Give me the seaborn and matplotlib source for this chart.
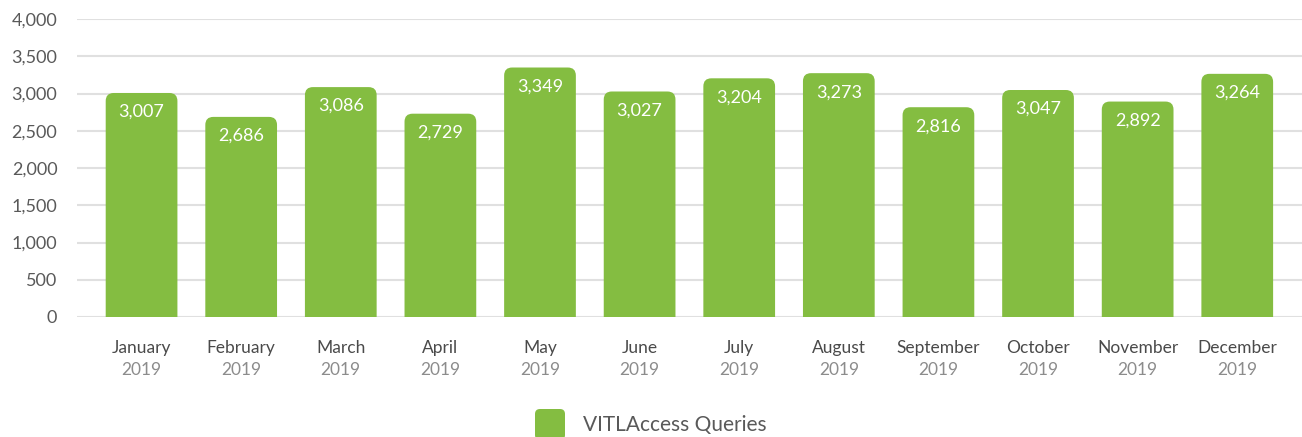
import numpy as np
import pandas as pd
import matplotlib
matplotlib.use('Agg')
import matplotlib.pyplot as plt
import seaborn as sns
from matplotlib.patches import FancyBboxPatch

# Chart data
months = ['January', 'February', 'March', 'April', 'May', 'June',
          'July', 'August', 'September', 'October', 'November', 'December']
year_label = '2019'
queries = [3007, 2686, 3086, 2729, 3349, 3027, 3204, 3273, 2816, 3047, 2892, 3264]
y_ticks = [0, 500, 1000, 1500, 2000, 2500, 3000, 3500, 4000]
series_name = 'VITLAccess Queries'

bar_color = '#84bd41'

sns.set_style('white')
plt.rcParams['font.family'] = ['Lato', 'DejaVu Sans']

fig = plt.figure(figsize=(13.02, 4.37), dpi=100)
ax = fig.add_axes([0.059, 0.2746, 0.941, 0.6819])

df = pd.DataFrame({'month': months, 'queries': queries})
sns.barplot(data=df, x='month', y='queries', color=bar_color, width=0.72,
            saturation=1, ax=ax, zorder=3)

ax.set_ylim(0, 4000)
ax.set_xlim(-0.65, len(months) - 0.35)

# swap plain bars for bars with rounded tops
px_x = (ax.get_xlim()[1] - ax.get_xlim()[0]) / (0.941 * 1302)
px_y = 4000 / (0.6819 * 437)
r_px = 8
aspect = px_y / px_x
for p in list(ax.patches):
    x0, w, h = p.get_x(), p.get_width(), p.get_height()
    p.remove()
    fb = FancyBboxPatch((x0, -300), w, h + 300,
                        boxstyle=f'round,pad=0,rounding_size={r_px * px_x}',
                        mutation_aspect=aspect, facecolor=bar_color,
                        edgecolor='none', zorder=3)
    ax.add_patch(fb)

for i, v in enumerate(queries):
    ax.text(i, v - 19 * px_y, f'{v:,}', ha='center', va='center',
            color='white', fontsize=13, zorder=4)

ax.set_yticks(y_ticks)
ax.set_yticklabels([f'{t:,}' for t in y_ticks], color='#595959', fontsize=13)
ax.tick_params(axis='y', length=0, pad=14)
ax.yaxis.grid(True, color='#e0e0e0', linewidth=1.5, zorder=0)
ax.set_axisbelow(True)

ax.set_xticks(range(len(months)))
ax.set_xticklabels([])
ax.tick_params(axis='x', length=0)
for i, m in enumerate(months):
    ax.text(i, -31 * px_y, m, ha='center', va='center', color='#4a4a4a',
            fontsize=12.5, clip_on=False)
    ax.text(i, -53 * px_y, year_label, ha='center', va='center', color='#8c8c8c',
            fontsize=12.5, clip_on=False)

ax.set_xlabel('')
ax.set_ylabel('')
sns.despine(ax=ax, left=True, bottom=True)

# legend: rounded swatch + label, drawn in inches from the figure corner
swatch = FancyBboxPatch((5.35, -0.03), 0.30, 0.31,
                        boxstyle='round,pad=0,rounding_size=0.05',
                        transform=fig.dpi_scale_trans, facecolor=bar_color,
                        edgecolor='none')
fig.patches.append(swatch)
fig.text(5.83, 0.12, series_name, transform=fig.dpi_scale_trans,
         ha='left', va='center', color='#595959', fontsize=15)

fig.savefig('out.png', dpi=100, facecolor='white')
